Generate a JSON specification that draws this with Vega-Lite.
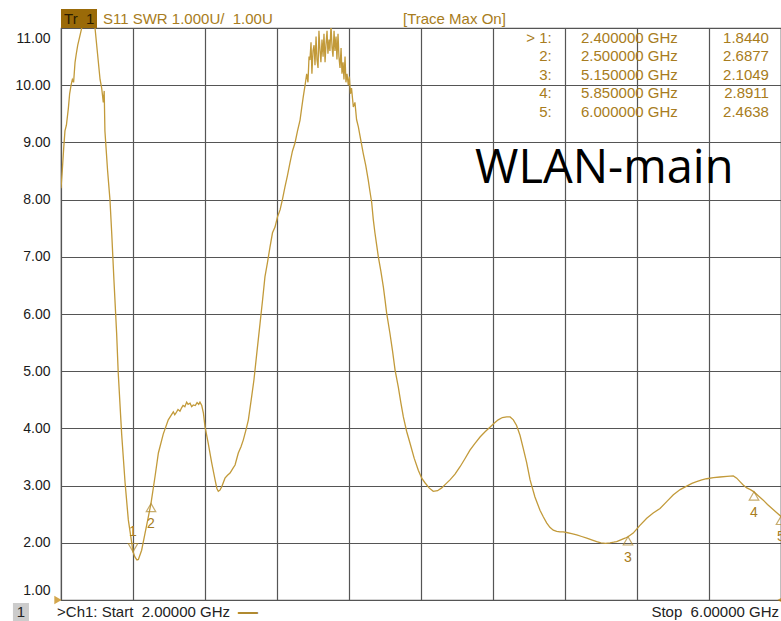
{
  "$schema": "https://vega.github.io/schema/vega-lite/v6.json",
  "width": 720,
  "height": 572,
  "autosize": {"type": "none"},
  "padding": {"left": 61, "top": 28, "right": 0, "bottom": 21},
  "background": "white",
  "config": {"view": {"stroke": "#555555", "strokeWidth": 1.2}, "font": "Liberation Sans"},
  "datasets": {
    "trace": [
      {"freq":2.000,"swr":8.2},{"freq":2.007,"swr":8.5},{"freq":2.015,"swr":8.9},{"freq":2.022,"swr":9.2},{"freq":2.030,"swr":9.3},{"freq":2.041,"swr":9.6},{"freq":2.048,"swr":9.85},{"freq":2.056,"swr":10.0},{"freq":2.063,"swr":10.1},{"freq":2.070,"swr":10.05},{"freq":2.078,"swr":10.4},{"freq":2.085,"swr":10.55},{"freq":2.093,"swr":10.7},{"freq":2.104,"swr":10.85},{"freq":2.115,"swr":11.0},{"freq":2.128,"swr":11.25},{"freq":2.140,"swr":11.35},{"freq":2.155,"swr":11.35},{"freq":2.170,"swr":11.25},{"freq":2.181,"swr":11.1},{"freq":2.189,"swr":11.0},{"freq":2.203,"swr":10.55},{"freq":2.217,"swr":10.1},{"freq":2.226,"swr":9.95},{"freq":2.235,"swr":9.7},{"freq":2.240,"swr":9.9},{"freq":2.244,"swr":9.2},{"freq":2.259,"swr":8.5},{"freq":2.272,"swr":8.0},{"freq":2.282,"swr":7.4},{"freq":2.294,"swr":6.6},{"freq":2.309,"swr":5.67},{"freq":2.318,"swr":4.97},{"freq":2.337,"swr":3.9},{"freq":2.356,"swr":3.05},{"freq":2.374,"swr":2.4},{"freq":2.393,"swr":2.0},{"freq":2.400,"swr":1.844},{"freq":2.411,"swr":1.75},{"freq":2.422,"swr":1.70},{"freq":2.430,"swr":1.71},{"freq":2.448,"swr":1.87},{"freq":2.467,"swr":2.17},{"freq":2.483,"swr":2.42},{"freq":2.500,"swr":2.69},{"freq":2.522,"swr":3.15},{"freq":2.541,"swr":3.57},{"freq":2.568,"swr":3.9},{"freq":2.596,"swr":4.15},{"freq":2.610,"swr":4.22},{"freq":2.624,"swr":4.29},{"freq":2.632,"swr":4.24},{"freq":2.639,"swr":4.27},{"freq":2.650,"swr":4.33},{"freq":2.661,"swr":4.30},{"freq":2.670,"swr":4.36},{"freq":2.678,"swr":4.40},{"freq":2.688,"swr":4.38},{"freq":2.698,"swr":4.46},{"freq":2.706,"swr":4.42},{"freq":2.717,"swr":4.44},{"freq":2.726,"swr":4.38},{"freq":2.735,"swr":4.41},{"freq":2.746,"swr":4.40},{"freq":2.756,"swr":4.45},{"freq":2.765,"swr":4.42},{"freq":2.772,"swr":4.46},{"freq":2.782,"swr":4.40},{"freq":2.791,"swr":4.27},{"freq":2.800,"swr":4.03},{"freq":2.818,"swr":3.74},{"freq":2.837,"swr":3.4},{"freq":2.856,"swr":3.1},{"freq":2.866,"swr":2.95},{"freq":2.874,"swr":2.9},{"freq":2.883,"swr":2.92},{"freq":2.893,"swr":2.98},{"freq":2.911,"swr":3.13},{"freq":2.925,"swr":3.18},{"freq":2.939,"swr":3.22},{"freq":2.955,"swr":3.30},{"freq":2.967,"swr":3.36},{"freq":2.985,"swr":3.57},{"freq":3.000,"swr":3.68},{"freq":3.013,"swr":3.8},{"freq":3.028,"swr":3.98},{"freq":3.041,"swr":4.15},{"freq":3.059,"swr":4.55},{"freq":3.072,"swr":4.85},{"freq":3.089,"swr":5.35},{"freq":3.106,"swr":5.84},{"freq":3.120,"swr":6.25},{"freq":3.133,"swr":6.65},{"freq":3.147,"swr":6.9},{"freq":3.161,"swr":7.17},{"freq":3.175,"swr":7.42},{"freq":3.189,"swr":7.52},{"freq":3.203,"swr":7.7},{"freq":3.217,"swr":7.82},{"freq":3.230,"swr":8.0},{"freq":3.244,"swr":8.22},{"freq":3.258,"swr":8.42},{"freq":3.272,"swr":8.64},{"freq":3.286,"swr":8.85},{"freq":3.300,"swr":8.99},{"freq":3.314,"swr":9.2},{"freq":3.328,"swr":9.39},{"freq":3.337,"swr":9.6},{"freq":3.346,"swr":9.8},{"freq":3.356,"swr":10.0},{"freq":3.365,"swr":10.2},{"freq":3.372,"swr":10.05},{"freq":3.378,"swr":10.5},{"freq":3.383,"swr":10.44},{"freq":3.389,"swr":10.75},{"freq":3.394,"swr":10.2},{"freq":3.400,"swr":10.6},{"freq":3.406,"swr":10.7},{"freq":3.411,"swr":10.35},{"freq":3.417,"swr":10.85},{"freq":3.422,"swr":10.45},{"freq":3.428,"swr":10.3},{"freq":3.433,"swr":10.95},{"freq":3.439,"swr":10.6},{"freq":3.444,"swr":10.4},{"freq":3.450,"swr":10.8},{"freq":3.456,"swr":10.5},{"freq":3.461,"swr":10.9},{"freq":3.467,"swr":10.4},{"freq":3.472,"swr":10.7},{"freq":3.478,"swr":10.95},{"freq":3.483,"swr":10.55},{"freq":3.489,"swr":10.8},{"freq":3.494,"swr":10.6},{"freq":3.500,"swr":11.05},{"freq":3.506,"swr":10.65},{"freq":3.511,"swr":10.5},{"freq":3.517,"swr":10.95},{"freq":3.522,"swr":10.6},{"freq":3.528,"swr":10.85},{"freq":3.533,"swr":10.45},{"freq":3.539,"swr":10.9},{"freq":3.544,"swr":10.5},{"freq":3.550,"swr":10.3},{"freq":3.556,"swr":10.65},{"freq":3.561,"swr":10.2},{"freq":3.567,"swr":10.4},{"freq":3.572,"swr":10.1},{"freq":3.578,"swr":10.5},{"freq":3.583,"swr":10.05},{"freq":3.589,"swr":10.2},{"freq":3.596,"swr":10.0},{"freq":3.602,"swr":10.15},{"freq":3.608,"swr":9.85},{"freq":3.614,"swr":9.95},{"freq":3.624,"swr":9.62},{"freq":3.633,"swr":9.7},{"freq":3.642,"swr":9.4},{"freq":3.652,"swr":9.27},{"freq":3.665,"swr":9.05},{"freq":3.679,"swr":8.81},{"freq":3.693,"swr":8.6},{"freq":3.707,"swr":8.34},{"freq":3.716,"swr":8.15},{"freq":3.726,"swr":7.95},{"freq":3.735,"swr":7.65},{"freq":3.744,"swr":7.42},{"freq":3.754,"swr":7.2},{"freq":3.763,"swr":7.0},{"freq":3.777,"swr":6.75},{"freq":3.791,"swr":6.47},{"freq":3.800,"swr":6.25},{"freq":3.809,"swr":6.02},{"freq":3.828,"swr":5.65},{"freq":3.842,"swr":5.35},{"freq":3.856,"swr":5.02},{"freq":3.874,"swr":4.72},{"freq":3.888,"swr":4.45},{"freq":3.902,"swr":4.2},{"freq":3.920,"swr":3.95},{"freq":3.939,"swr":3.74},{"freq":3.962,"swr":3.48},{"freq":3.985,"swr":3.27},{"freq":4.004,"swr":3.13},{"freq":4.022,"swr":3.05},{"freq":4.045,"swr":2.96},{"freq":4.068,"swr":2.9},{"freq":4.092,"swr":2.91},{"freq":4.115,"swr":2.96},{"freq":4.138,"swr":3.03},{"freq":4.161,"swr":3.1},{"freq":4.189,"swr":3.2},{"freq":4.217,"swr":3.33},{"freq":4.244,"swr":3.47},{"freq":4.272,"swr":3.62},{"freq":4.300,"swr":3.74},{"freq":4.328,"swr":3.85},{"freq":4.356,"swr":3.94},{"freq":4.383,"swr":4.02},{"freq":4.406,"swr":4.09},{"freq":4.429,"swr":4.15},{"freq":4.452,"swr":4.19},{"freq":4.476,"swr":4.2},{"freq":4.495,"swr":4.2},{"freq":4.513,"swr":4.15},{"freq":4.531,"swr":4.05},{"freq":4.550,"swr":3.88},{"freq":4.568,"swr":3.65},{"freq":4.587,"swr":3.4},{"freq":4.606,"swr":3.1},{"freq":4.633,"swr":2.8},{"freq":4.661,"swr":2.57},{"freq":4.680,"swr":2.45},{"freq":4.698,"swr":2.35},{"freq":4.716,"swr":2.27},{"freq":4.735,"swr":2.22},{"freq":4.754,"swr":2.2},{"freq":4.772,"swr":2.19},{"freq":4.790,"swr":2.19},{"freq":4.809,"swr":2.18},{"freq":4.837,"swr":2.16},{"freq":4.865,"swr":2.14},{"freq":4.893,"swr":2.11},{"freq":4.921,"swr":2.08},{"freq":4.948,"swr":2.05},{"freq":4.976,"swr":2.02},{"freq":5.000,"swr":2.0},{"freq":5.025,"swr":1.99},{"freq":5.050,"swr":2.0},{"freq":5.070,"swr":2.01},{"freq":5.087,"swr":2.02},{"freq":5.110,"swr":2.05},{"freq":5.133,"swr":2.08},{"freq":5.150,"swr":2.105},{"freq":5.179,"swr":2.17},{"freq":5.215,"swr":2.3},{"freq":5.254,"swr":2.43},{"freq":5.290,"swr":2.52},{"freq":5.328,"swr":2.6},{"freq":5.365,"swr":2.72},{"freq":5.402,"swr":2.84},{"freq":5.440,"swr":2.93},{"freq":5.476,"swr":2.99},{"freq":5.505,"swr":3.04},{"freq":5.531,"swr":3.07},{"freq":5.560,"swr":3.1},{"freq":5.587,"swr":3.12},{"freq":5.625,"swr":3.14},{"freq":5.661,"swr":3.15},{"freq":5.700,"swr":3.16},{"freq":5.735,"swr":3.17},{"freq":5.754,"swr":3.13},{"freq":5.772,"swr":3.07},{"freq":5.790,"swr":3.01},{"freq":5.810,"swr":2.96},{"freq":5.830,"swr":2.93},{"freq":5.850,"swr":2.89},{"freq":5.875,"swr":2.82},{"freq":5.900,"swr":2.75},{"freq":5.925,"swr":2.67},{"freq":5.950,"swr":2.6},{"freq":5.975,"swr":2.53},{"freq":6.000,"swr":2.46}
    ],
    "markers": [
      {"id":"1","freq":2.4,"swr":1.844},
      {"id":"2","freq":2.5,"swr":2.6877},
      {"id":"3","freq":5.15,"swr":2.1049},
      {"id":"4","freq":5.85,"swr":2.8911},
      {"id":"5","freq":6.0,"swr":2.4638}
    ],
    "table": [
      {"c1":"> 1:|2:|3:|4:|5:","c2":"2.400000 GHz|2.500000 GHz|5.150000 GHz|5.850000 GHz|6.000000 GHz","c3":"1.8440|2.6877|2.1049|2.8911|2.4638"}
    ],
    "one": [{}]
  },
  "layer": [
    {
      "data": {"name": "trace"},
      "mark": {"type": "line", "color": "#C29A3A", "strokeWidth": 1.3, "clip": true},
      "encoding": {
        "x": {"field": "freq", "type": "quantitative",
          "scale": {"domain": [2, 6], "nice": false, "zero": false},
          "axis": {"values": [2,2.4,2.8,3.2,3.6,4.0,4.4,4.8,5.2,5.6,6.0], "labels": false, "ticks": false, "domain": false, "grid": true, "gridColor": "#555555", "gridWidth": 1.2, "gridOpacity": 1, "title": null}},
        "y": {"field": "swr", "type": "quantitative",
          "scale": {"domain": [1, 11], "nice": false, "zero": false},
          "axis": {"values": [1,2,3,4,5,6,7,8,9,10,11], "format": ".2f", "labelFontSize": 14, "labelColor": "#1a1a1a", "labelPadding": 11, "labelFlush": true, "labelFlushOffset": -3, "ticks": false, "domain": false, "grid": true, "gridColor": "#555555", "gridWidth": 1.2, "gridOpacity": 1, "title": null}}
      }
    },
    {
      "data": {"name": "markers"},
      "transform": [{"filter": "datum.id != '1'"}],
      "mark": {"type": "point", "shape": "triangle-up", "size": 90, "filled": false, "stroke": "#B08A30", "strokeWidth": 1.2, "yOffset": 4.1, "clip": false},
      "encoding": {"x": {"field": "freq", "type": "quantitative"}, "y": {"field": "swr", "type": "quantitative"}}
    },
    {
      "data": {"name": "markers"},
      "transform": [{"filter": "datum.id != '1'"}],
      "mark": {"type": "text", "fontSize": 14, "color": "#A87C20", "dy": 21, "baseline": "middle", "align": "center"},
      "encoding": {"x": {"field": "freq", "type": "quantitative"}, "y": {"field": "swr", "type": "quantitative"}, "text": {"field": "id"}}
    },
    {
      "data": {"name": "markers"},
      "transform": [{"filter": "datum.id == '1'"}],
      "mark": {"type": "point", "shape": "triangle-down", "size": 90, "filled": false, "stroke": "#B08A30", "strokeWidth": 1.2, "yOffset": -4.1},
      "encoding": {"x": {"field": "freq", "type": "quantitative"}, "y": {"field": "swr", "type": "quantitative"}}
    },
    {
      "data": {"name": "markers"},
      "transform": [{"filter": "datum.id == '1'"}],
      "mark": {"type": "text", "fontSize": 14, "color": "#A87C20", "dy": -20, "baseline": "middle", "align": "center"},
      "encoding": {"x": {"field": "freq", "type": "quantitative"}, "y": {"field": "swr", "type": "quantitative"}, "text": {"field": "id"}}
    },
    {
      "data": {"name": "table"},
      "mark": {"type": "text", "fontSize": 15, "color": "#A87C20", "align": "right", "baseline": "alphabetic", "lineBreak": "|", "lineHeight": 18.5},
      "encoding": {"x": {"datum": 4.726}, "y": {"datum": 10.74}, "text": {"field": "c1"}}
    },
    {
      "data": {"name": "table"},
      "mark": {"type": "text", "fontSize": 15, "color": "#A87C20", "align": "left", "baseline": "alphabetic", "lineBreak": "|", "lineHeight": 18.5},
      "encoding": {"x": {"datum": 4.889}, "y": {"datum": 10.74}, "text": {"field": "c2"}}
    },
    {
      "data": {"name": "table"},
      "mark": {"type": "text", "fontSize": 15, "color": "#A87C20", "align": "right", "baseline": "alphabetic", "lineBreak": "|", "lineHeight": 18.5},
      "encoding": {"x": {"datum": 5.933}, "y": {"datum": 10.74}, "text": {"field": "c3"}}
    },
    {
      "data": {"name": "one"},
      "mark": {"type": "text", "font": "Open Sans", "fontSize": 47, "color": "#000000", "align": "left", "baseline": "alphabetic"},
      "encoding": {"x": {"datum": 4.3}, "y": {"datum": 8.29}, "text": {"value": "WLAN-main"}}
    },
    {
      "data": {"name": "one"},
      "mark": {"type": "rect", "color": "#9A6A08", "clip": false},
      "encoding": {"x": {"datum": 2.0}, "x2": {"datum": 2.2}, "y": {"datum": 11.0}, "y2": {"datum": 11.33}}
    },
    {
      "data": {"name": "one"},
      "mark": {"type": "text", "fontSize": 15, "color": "#2a1c00", "align": "left", "baseline": "middle"},
      "encoding": {"x": {"datum": 2.017}, "y": {"datum": 11.157}, "text": {"value": "Tr\u00a0\u00a01"}}
    },
    {
      "data": {"name": "one"},
      "mark": {"type": "text", "fontSize": 15, "color": "#A87C20", "align": "left", "baseline": "middle"},
      "encoding": {"x": {"datum": 2.233}, "y": {"datum": 11.157}, "text": {"value": "S11 SWR 1.000U/\u00a0\u00a01.00U"}}
    },
    {
      "data": {"name": "one"},
      "mark": {"type": "text", "fontSize": 15, "color": "#A87C20", "align": "left", "baseline": "middle"},
      "encoding": {"x": {"datum": 3.9}, "y": {"datum": 11.157}, "text": {"value": "[Trace Max On]"}}
    },
    {
      "data": {"name": "one"},
      "mark": {"type": "rect", "color": "#cccccc", "clip": false},
      "encoding": {"x": {"datum": 1.733}, "x2": {"datum": 1.822}, "y": {"datum": 0.948}, "y2": {"datum": 0.633}}
    },
    {
      "data": {"name": "one"},
      "mark": {"type": "text", "fontSize": 15, "color": "#222222", "align": "center", "baseline": "middle"},
      "encoding": {"x": {"datum": 1.778}, "y": {"datum": 0.79}, "text": {"value": "1"}}
    },
    {
      "data": {"name": "one"},
      "mark": {"type": "text", "fontSize": 15, "color": "#222222", "align": "left", "baseline": "middle"},
      "encoding": {"x": {"datum": 1.978}, "y": {"datum": 0.79}, "text": {"value": ">Ch1: Start\u00a0\u00a02.00000 GHz"}}
    },
    {
      "data": {"name": "one"},
      "mark": {"type": "text", "fontSize": 20, "fontWeight": "bold", "color": "#B08A30", "align": "center", "baseline": "middle"},
      "encoding": {"x": {"datum": 3.039}, "y": {"datum": 0.79}, "text": {"value": "—"}}
    },
    {
      "data": {"name": "one"},
      "mark": {"type": "text", "fontSize": 15, "color": "#222222", "align": "right", "baseline": "middle"},
      "encoding": {"x": {"datum": 5.989}, "y": {"datum": 0.79}, "text": {"value": "Stop\u00a0\u00a06.00000 GHz"}}
    },
    {
      "data": {"name": "one"},
      "mark": {"type": "point", "shape": "triangle-right", "size": 70, "filled": true, "color": "#C08000", "clip": false},
      "encoding": {"x": {"datum": 1.983}, "y": {"datum": 1.0}}
    },
    {
      "data": {"name": "one"},
      "mark": {"type": "point", "shape": "triangle-left", "size": 70, "filled": true, "color": "#C08000", "clip": false},
      "encoding": {"x": {"datum": 6.0}, "y": {"datum": 1.0}}
    }
  ]
}
